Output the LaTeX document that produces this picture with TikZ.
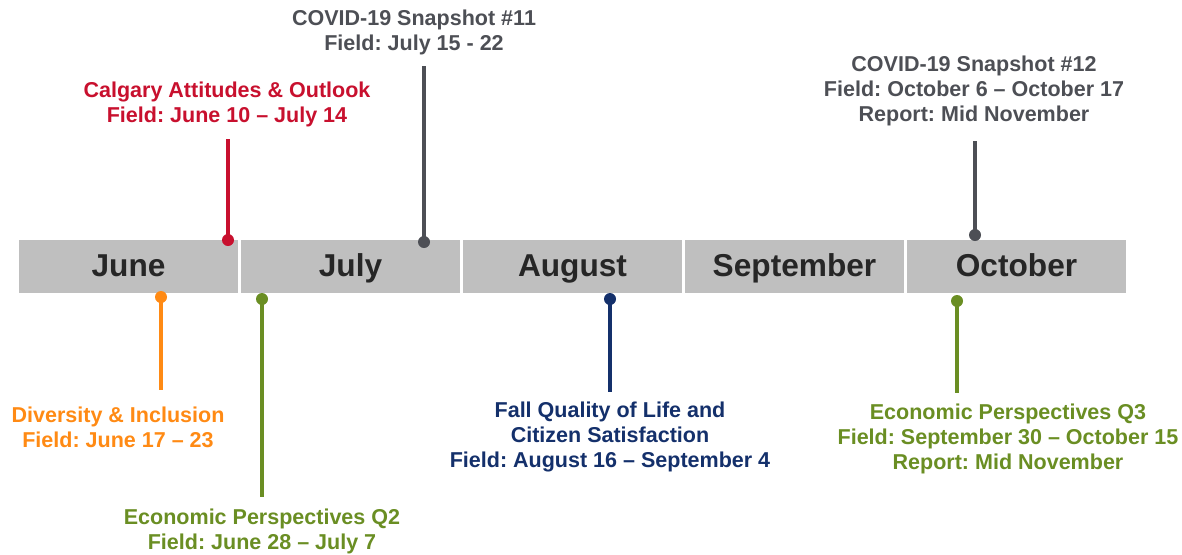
\documentclass[tikz,border=0pt]{standalone}
\usepackage{fontspec}
\setmainfont{Liberation Sans}
\frenchspacing

\definecolor{barGray}{HTML}{BFBFBF}
\definecolor{monthInk}{HTML}{262626}
\definecolor{calgRed}{HTML}{C8102E}
\definecolor{covidGray}{HTML}{4D4F55}
\definecolor{divOrange}{HTML}{FF8A14}
\definecolor{econGreen}{HTML}{6A8E23}
\definecolor{qolNavy}{HTML}{14306B}

\tikzset{
    month/.style={fill=barGray, inner sep=0pt, minimum width=5.49cm, minimum height=1.33cm,
        text height=16.5pt, text depth=3pt,
        text=monthInk, font=\fontsize{22.5}{24}\selectfont\bfseries},
    lbl/.style={align=center, inner sep=0pt, font=\fontsize{15.3}{17.8}\selectfont\bfseries},
    stem/.style={line width=2.4pt},
}

\begin{document}
\begin{tikzpicture}[x=0.025cm, y=-0.025cm]
        \useasboundingbox (0, 0) rectangle (1182, 554);

        % timeline bar
        \foreach \m [count=\i from 0] in {June, July, August, September, October} {
            \pgfmathsetmacro{\cx}{128.5 + 222*\i}
            \node[month] (m\i) at (\cx, 266.5) {\m};
        }

        % above the bar
        \node[lbl, text=calgRed] (calgary) at (227, 104.5) {Calgary Attitudes \& Outlook\\Field: June 10 -- July 14};
        \coordinate (calgaryTop) at (228, 139);
        \coordinate (calgaryDot) at (228, 240);
        \draw[stem, calgRed] (calgaryTop) -- (calgaryDot);
        \fill[calgRed] (calgaryDot) circle (6);

        \node[lbl, text=covidGray] (covidA) at (414, 32.5) {COVID-19 Snapshot \#11\\Field: July 15 - 22};
        \coordinate (covidATop) at (424, 66);
        \coordinate (covidADot) at (424, 242);
        \draw[stem, covidGray] (covidATop) -- (covidADot);
        \fill[covidGray] (covidADot) circle (6);

        \node[lbl, text=covidGray] (covidB) at (974, 90.5) {COVID-19 Snapshot \#12\\Field: October 6 -- October 17\\Report: Mid November};
        \coordinate (covidBTop) at (975, 141);
        \coordinate (covidBDot) at (975, 235);
        \draw[stem, covidGray] (covidBTop) -- (covidBDot);
        \fill[covidGray] (covidBDot) circle (6);

        % below the bar
        \node[lbl, text=divOrange] (divers) at (118, 427) {Diversity \& Inclusion\\Field: June 17 -- 23};
        \coordinate (diversDot) at (161, 297);
        \coordinate (diversEnd) at (161, 390);
        \draw[stem, divOrange] (diversDot) -- (diversEnd);
        \fill[divOrange] (diversDot) circle (6);

        \node[lbl, text=econGreen] (econA) at (262, 531.5) {Economic Perspectives Q2\\Field: June 28 -- July 7};
        \coordinate (econADot) at (262, 299);
        \coordinate (econAEnd) at (262, 497);
        \draw[stem, econGreen] (econADot) -- (econAEnd);
        \fill[econGreen] (econADot) circle (6);

        \node[lbl, text=qolNavy] (qol) at (610, 437) {Fall Quality of Life and\\Citizen Satisfaction\\Field: August 16 -- September 4};
        \coordinate (qolDot) at (610, 299);
        \coordinate (qolEnd) at (610, 392);
        \draw[stem, qolNavy] (qolDot) -- (qolEnd);
        \fill[qolNavy] (qolDot) circle (6);

        \node[lbl, text=econGreen] (econB) at (1008, 438.5) {Economic Perspectives Q3\\Field: September 30 -- October 15\\Report: Mid November};
        \coordinate (econBDot) at (957, 301);
        \coordinate (econBEnd) at (957, 393);
        \draw[stem, econGreen] (econBDot) -- (econBEnd);
        \fill[econGreen] (econBDot) circle (6);
    \end{tikzpicture}
\end{document}
